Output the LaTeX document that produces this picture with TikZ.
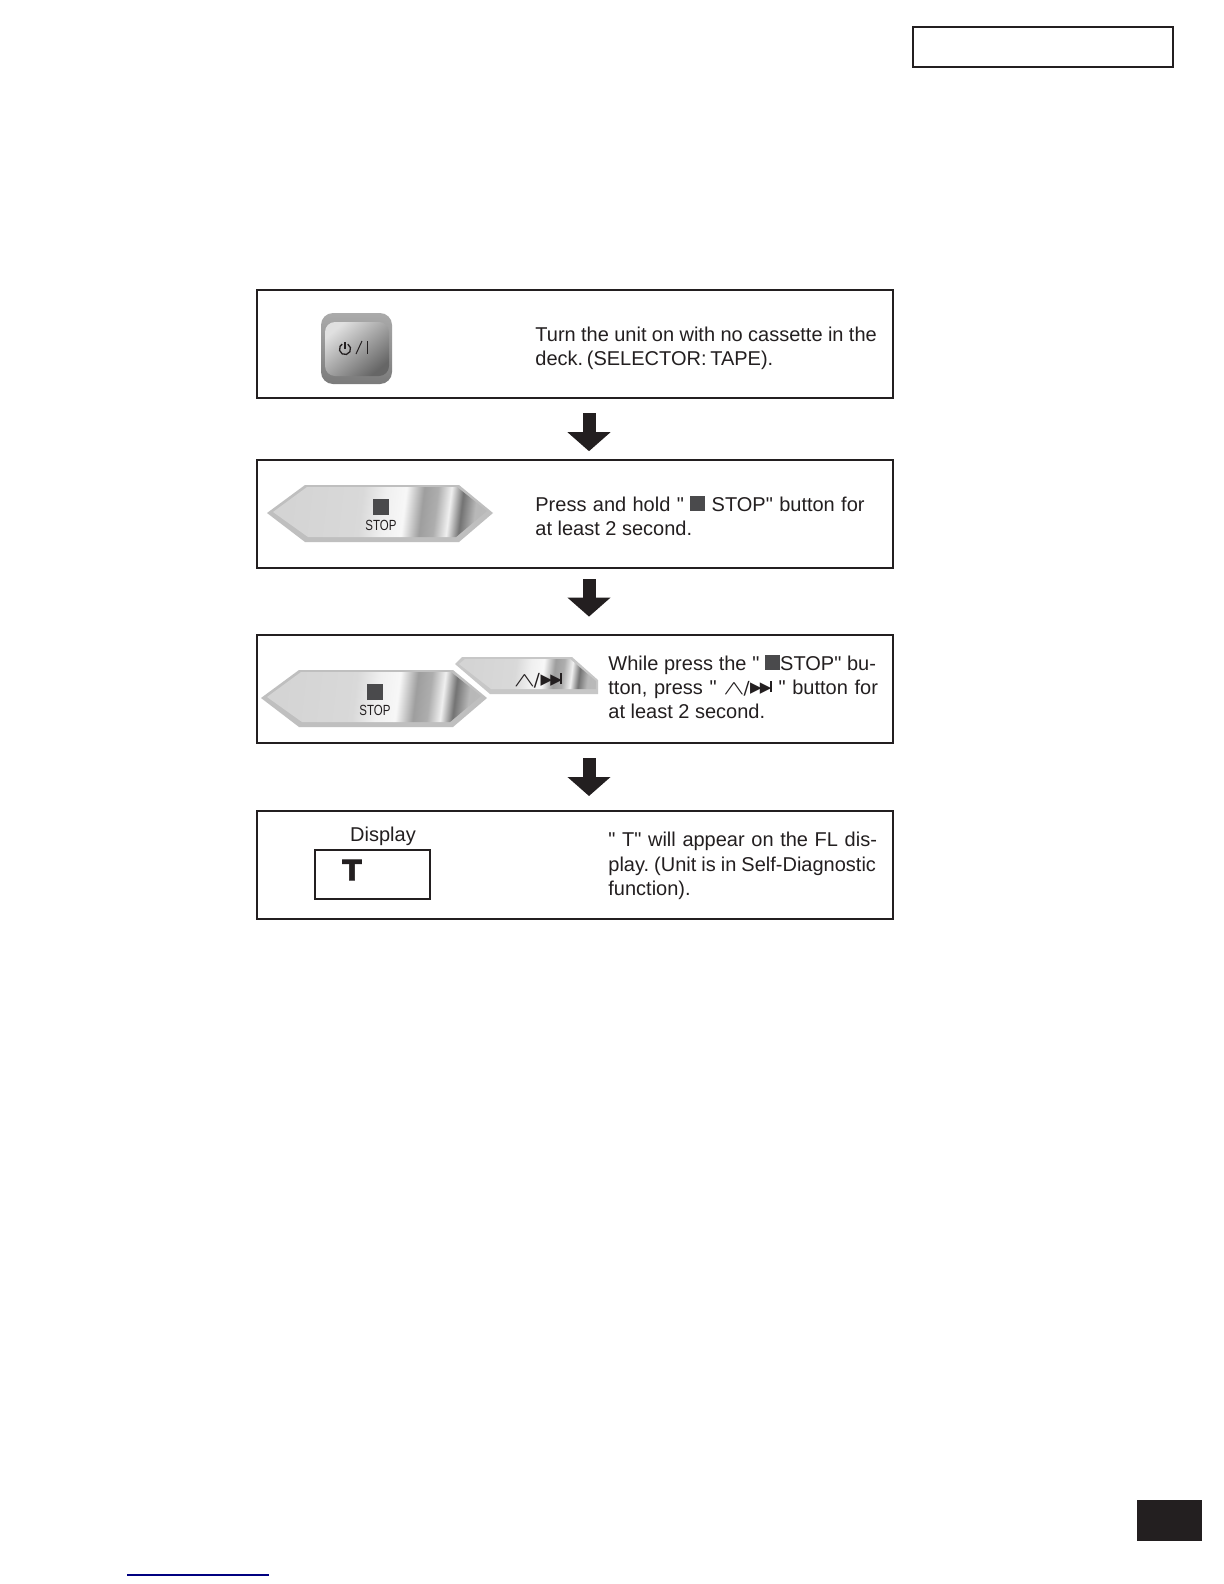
\documentclass[tikz,border=0pt]{standalone}
\usepackage{xcolor}
\usepackage{fontspec}
\setmainfont{Liberation Sans}
\newfontfamily\stepfont{Liberation Sans}
\newfontfamily\symfont{DejaVu Sans}
\newfontfamily\heavyfont[FakeBold=2.5]{DejaVu Sans Bold}
\usetikzlibrary{positioning,arrows.meta}
\definecolor{inkblack}{HTML}{231F20}
\definecolor{squaregray}{HTML}{4A4A4C}
\pgfdeclarehorizontalshading{stopsheen}{100bp}{
  color(0bp)=(black!17); color(25bp)=(black!17); color(45bp)=(black!15); color(51bp)=(black!6);
  color(56bp)=(black!3); color(60.5bp)=(black!38); color(64bp)=(black!32);
  color(67.4bp)=(black!6); color(70.5bp)=(black!55); color(74bp)=(black!28); color(100bp)=(black!22)}
\newcommand{\stopsq}{\textcolor{squaregray}{\rule{7.5pt}{7.5pt}}}
\newcommand{\upnext}{{\symfont\smash{\raisebox{.2pt}{\scalebox{1.6}[1]{$\wedge$}}}\kern-.6pt\fontsize{9}{9}\selectfont\smash{/}\kern.3pt\raisebox{1.2pt}{\fontsize{7.5}{8}\selectfont\smash{▶\kern-.9pt▶}}\kern-.7pt\raisebox{1.2pt}{\rule{.9pt}{5.4pt}}}}
\newcommand{\fitline}[2]{\makebox[#1][s]{#2}}
\tikzset{
  stopbutton/.pic={
    \fill[black!25] (0,0) -- (38,-28) -- (192,-28) -- (226,0) -- (192,29) -- (38,29) -- cycle;
    \shade[shading=stopsheen, shading angle=-7] (6,-1) -- (40,-26) -- (190,-26) -- (220,-2) -- (189,24) -- (41,24) -- cycle;
    \node[fill=squaregray, minimum size=7.6pt, inner sep=0pt] (sq) at (114,-6) {};
    \node[font=\fontsize{7}{8}\selectfont, inner sep=0pt, text=inkblack] (lbl) at (114,12) {\scalebox{.82}[1.05]{STOP}};
  }
}
\begin{document}
\begin{tikzpicture}[
  x=0.5pt, y=-0.5pt,
  node distance=30pt,
  font=\stepfont\frenchspacing\fontsize{10}{12.1}\selectfont,
  stepbox/.style={rectangle, draw=inkblack, fill=white, line width=.9pt, minimum width=318pt, minimum height=54pt, inner sep=0pt, outer sep=0pt},
  steptext/.style={anchor=west, align=left, inner sep=0pt, text=inkblack},
  flowarrow/.style={draw=inkblack, line width=6.5pt, -{Triangle[length=9.5pt,width=21pt,fill=inkblack]}}
]
  \useasboundingbox (0,0) rectangle (1224,1584);
  % header and footer marks
  \node[stepbox, minimum width=130pt, minimum height=20pt] (head) at (1043,47) {};
  \node[fill=inkblack, minimum width=32.5pt, minimum height=20.5pt, inner sep=0pt] (tab) at (1169.5,1520.5) {};
  \coordinate (linkL) at (127,1575);
  \coordinate (linkR) at (269,1575);
  \draw[blue!50!black, line width=0.8pt] (linkL) -- (linkR);
  % flow boxes
  \node[stepbox] (box1) at (575,344) {};
  \node[stepbox] (box2) [below=30.8pt of box1] {};
  \node[stepbox] (box3) [below=33.5pt of box2] {};
  \node[stepbox] (box4) [below=34.2pt of box3] {};
  \draw[flowarrow, shorten <=7.5pt, shorten >=4.2pt] ([xshift=7pt]box1.south) -- ([xshift=7pt]box2.north);
  \draw[flowarrow, shorten <=5.7pt, shorten >=9pt] ([xshift=7pt]box2.south) -- ([xshift=7pt]box3.north);
  \draw[flowarrow, shorten <=7.7pt, shorten >=7.5pt] ([xshift=7pt]box3.south) -- ([xshift=7pt]box4.north);
  % texts
  \node[steptext] (text1) at (535,348.5) {\fitline{170.7pt}{Turn the unit on with no cassette in the}\\\fitline{117.5pt}{deck. (SELECTOR: TAPE).}};
  \node[steptext] (text2) at (535,516) {\fitline{164.6pt}{Press and hold " \stopsq{} STOP" button for}\\at least 2 second.};
  \node[steptext] (text3) at (608,687) {\fitline{133.8pt}{While press the " \stopsq{}STOP" bu-}\\\fitline{134.8pt}{tton, press " \upnext{} " button for}\\at least 2 second.};
  \node[steptext] (text4) at (608,866) {\fitline{134.3pt}{" T" will appear on the FL dis-}\\\fitline{133.8pt}{play. (Unit is in Self-Diagnostic}\\function).};
  % power button
  \shade[top color=black!33, bottom color=black!52, rounded corners=6pt] (321,313) rectangle (392,384);
  \shade[top color=black!12, bottom color=black!60, shading angle=40, rounded corners=5pt] (325,322) rectangle (389,376);
  \coordinate (pwr) at (345,349);
  \draw[inkblack, line width=.65pt] ([shift={(-60:5.6)}]pwr) arc[start angle=60, end angle=-240, radius=2.8pt];
  \draw[inkblack, line width=.65pt] (pwr) -- ++(0,-7.5);
  \draw[inkblack, line width=.5pt] (356,354) -- (362,341);
  \draw[inkblack, line width=.5pt] (367,341) -- (367,354);
  % stop buttons
  \pic (stopA) at (267,513) {stopbutton};
  \fill[black!22] (455,664) -- (462,657) -- (572,657) -- (598,680) -- (598,694) -- (490,694) -- cycle;
  \shade[shading=stopsheen, shading angle=-7] (459,664) -- (465,659) -- (570,659) -- (596,681) -- (596,689) -- (491,689) -- cycle;
  \node[inner sep=0pt, text=inkblack] (nextglyph) at (538,680) {\upnext};
  \pic (stopB) at (261,698) {stopbutton};
  % display
  \node[inner sep=0pt, text=inkblack] (displaylabel) at (383,836) {Display};
  \node[rectangle, draw=inkblack, line width=1pt, minimum width=57.5pt, minimum height=24.5pt, inner sep=0pt] (display) at (372.5,874) {};
  \node[inner sep=0pt, text=inkblack, font=\heavyfont\fontsize{14}{14}\selectfont] (displayT) at (352,870) {T};
\end{tikzpicture}
\end{document}
